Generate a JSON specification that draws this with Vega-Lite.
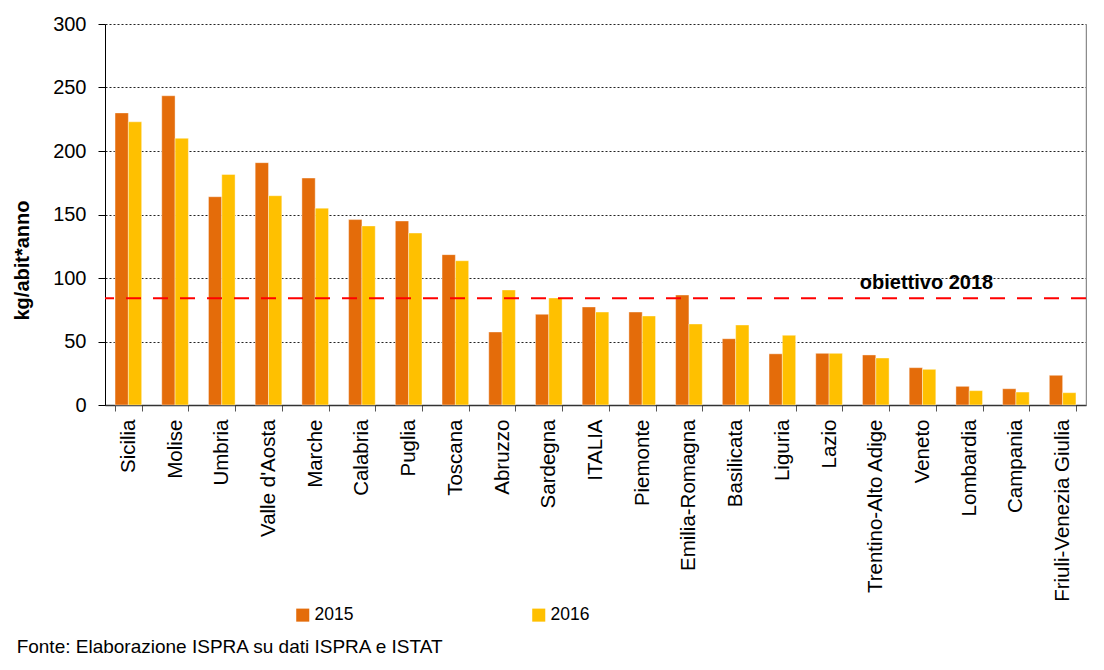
{
  "$schema": "https://vega.github.io/schema/vega-lite/v6.json",
  "width": 981,
  "height": 381,
  "padding": {"left": 12, "top": 14, "right": 0, "bottom": 0},
  "background": "white",
  "datasets": {
    "bars": [
      {"regione": "Sicilia", "anno": "2015", "valore": 230},
      {"regione": "Sicilia", "anno": "2016", "valore": 223},
      {"regione": "Molise", "anno": "2015", "valore": 243.5},
      {"regione": "Molise", "anno": "2016", "valore": 210},
      {"regione": "Umbria", "anno": "2015", "valore": 164},
      {"regione": "Umbria", "anno": "2016", "valore": 181.5},
      {"regione": "Valle d'Aosta", "anno": "2015", "valore": 190.8},
      {"regione": "Valle d'Aosta", "anno": "2016", "valore": 164.8},
      {"regione": "Marche", "anno": "2015", "valore": 178.7},
      {"regione": "Marche", "anno": "2016", "valore": 155},
      {"regione": "Calabria", "anno": "2015", "valore": 146},
      {"regione": "Calabria", "anno": "2016", "valore": 141},
      {"regione": "Puglia", "anno": "2015", "valore": 144.9},
      {"regione": "Puglia", "anno": "2016", "valore": 135.4},
      {"regione": "Toscana", "anno": "2015", "valore": 118.4},
      {"regione": "Toscana", "anno": "2016", "valore": 113.6},
      {"regione": "Abruzzo", "anno": "2015", "valore": 57.5},
      {"regione": "Abruzzo", "anno": "2016", "valore": 90.6},
      {"regione": "Sardegna", "anno": "2015", "valore": 71.4},
      {"regione": "Sardegna", "anno": "2016", "valore": 84.3},
      {"regione": "ITALIA", "anno": "2015", "valore": 77.2},
      {"regione": "ITALIA", "anno": "2016", "valore": 73.2},
      {"regione": "Piemonte", "anno": "2015", "valore": 73.2},
      {"regione": "Piemonte", "anno": "2016", "valore": 70.1},
      {"regione": "Emilia-Romagna", "anno": "2015", "valore": 86.6},
      {"regione": "Emilia-Romagna", "anno": "2016", "valore": 63.8},
      {"regione": "Basilicata", "anno": "2015", "valore": 52.2},
      {"regione": "Basilicata", "anno": "2016", "valore": 63},
      {"regione": "Liguria", "anno": "2015", "valore": 40.3},
      {"regione": "Liguria", "anno": "2016", "valore": 54.9},
      {"regione": "Lazio", "anno": "2015", "valore": 40.7},
      {"regione": "Lazio", "anno": "2016", "valore": 40.7},
      {"regione": "Trentino-Alto  Adige", "anno": "2015", "valore": 39.4},
      {"regione": "Trentino-Alto  Adige", "anno": "2016", "valore": 37},
      {"regione": "Veneto", "anno": "2015", "valore": 29.4},
      {"regione": "Veneto", "anno": "2016", "valore": 28.1},
      {"regione": "Lombardia", "anno": "2015", "valore": 14.7},
      {"regione": "Lombardia", "anno": "2016", "valore": 11.3},
      {"regione": "Campania", "anno": "2015", "valore": 12.8},
      {"regione": "Campania", "anno": "2016", "valore": 10.2},
      {"regione": "Friuli-Venezia  Giulia", "anno": "2015", "valore": 23.4},
      {"regione": "Friuli-Venezia  Giulia", "anno": "2016", "valore": 9.7}
    ],
    "target": [
      {"regione": "Veneto", "valore": 84, "etichetta": "obiettivo 2018"}
    ]
  },
  "title": {
    "text": "Fonte: Elaborazione ISPRA su dati ISPRA e ISTAT",
    "orient": "bottom",
    "anchor": "start",
    "frame": "bounds",
    "font": "Liberation Sans",
    "fontSize": 19,
    "fontWeight": "normal",
    "color": "#000000",
    "offset": 14,
    "dx": 4
  },
  "layer": [
    {
      "data": {"name": "bars"},
      "mark": {"type": "bar", "stroke": "#ffffff", "strokeWidth": 1, "strokeOpacity": 0.4},
      "encoding": {
        "x": {
          "field": "regione",
          "type": "nominal",
          "sort": null,
          "scale": {"paddingInner": 0.43, "paddingOuter": 0.215},
          "axis": {
            "title": null,
            "labelAngle": -90,
            "labelFont": "Liberation Sans",
            "labelFontSize": 20.5,
            "labelColor": "#000000",
            "labelLimit": 260,
            "labelPadding": 8,
            "tickBand": "extent",
            "tickSize": 6,
            "tickColor": "#555555",
            "domainColor": "#333333",
            "domainWidth": 1.5
          }
        },
        "xOffset": {"field": "anno", "type": "nominal", "scale": {"paddingInner": 0, "paddingOuter": 0}},
        "y": {
          "field": "valore",
          "type": "quantitative",
          "scale": {"domain": [0, 300], "nice": false},
          "axis": {
            "title": "kg/abit*anno",
            "titleFont": "Liberation Sans",
            "titleFontSize": 20,
            "titleFontWeight": "bold",
            "titleColor": "#000000",
            "titlePadding": 20,
            "titleY": 236,
            "values": [0, 50, 100, 150, 200, 250, 300],
            "labelFont": "Liberation Sans",
            "labelFontSize": 20,
            "labelColor": "#000000",
            "labelPadding": 12,
            "tickSize": 7,
            "tickColor": "#000000",
            "domainColor": "#000000",
            "grid": true,
            "gridColor": "#222222",
            "gridDash": [2, 2],
            "gridWidth": 1
          }
        },
        "color": {
          "field": "anno",
          "type": "nominal",
          "scale": {"domain": ["2015", "2016"], "range": ["#E46C0A", "#FFC000"]},
          "legend": {
            "title": null,
            "orient": "none",
            "direction": "horizontal",
            "legendX": 189,
            "legendY": 582,
            "symbolType": "square",
            "symbolSize": 170,
            "symbolStrokeWidth": 0,
            "labelFont": "Liberation Sans",
            "labelFontSize": 17.5,
            "labelColor": "#000000",
            "labelOffset": 3,
            "columnPadding": 176
          }
        }
      }
    },
    {
      "data": {"name": "target"},
      "mark": {"type": "rule", "color": "#FF0000", "strokeWidth": 2, "strokeDash": [15, 12]},
      "encoding": {
        "y": {
          "field": "valore",
          "type": "quantitative",
          "axis": {"orient": "right", "title": null, "labels": false, "ticks": false, "grid": false, "domainColor": "#8c8c8c", "domainWidth": 1.5}
        }
      }
    },
    {
      "data": {"name": "target"},
      "mark": {"type": "text", "font": "Liberation Sans", "fontSize": 20, "fontWeight": "bold", "color": "#000000", "dy": -15, "dx": 4, "baseline": "middle"},
      "encoding": {
        "x": {"field": "regione", "type": "nominal", "sort": null},
        "y": {"field": "valore", "type": "quantitative", "axis": null},
        "text": {"field": "etichetta"}
      }
    }
  ],
  "resolve": {"axis": {"y": "independent"}},
  "config": {
    "view": {"stroke": null}
  }
}
